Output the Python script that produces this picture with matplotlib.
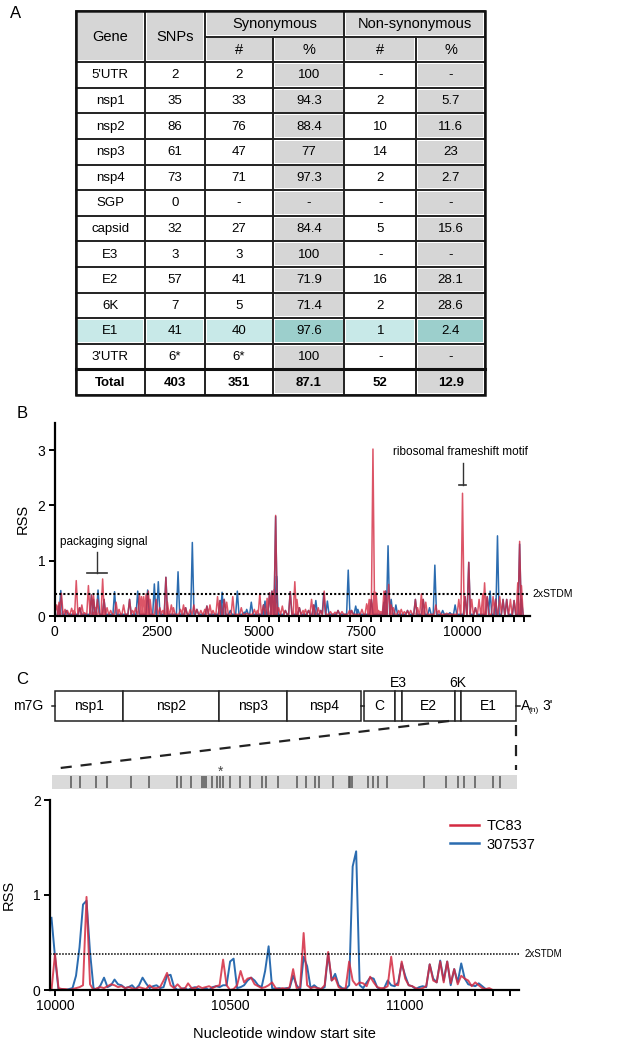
import numpy as np
import matplotlib
matplotlib.use('Agg')
import matplotlib.pyplot as plt
from matplotlib.patches import Rectangle
from matplotlib.lines import Line2D

plt.rcParams['font.family'] = ['Liberation Sans', 'DejaVu Sans']

# ----------------------------
# DATA
# ----------------------------
# Panel A table
genes = ["5'UTR", "nsp1", "nsp2", "nsp3", "nsp4", "SGP", "capsid", "E3", "E2", "6K", "E1", "3'UTR", "Total"]
snps = ["2", "35", "86", "61", "73", "0", "32", "3", "57", "7", "41", "6*", "403"]
syn_n = ["2", "33", "76", "47", "71", "-", "27", "3", "41", "5", "40", "6*", "351"]
syn_pct = ["100", "94.3", "88.4", "77", "97.3", "-", "84.4", "100", "71.9", "71.4", "97.6", "100", "87.1"]
non_n = ["-", "2", "10", "14", "2", "-", "5", "-", "16", "2", "1", "-", "52"]
non_pct = ["-", "5.7", "11.6", "23", "2.7", "-", "15.6", "-", "28.1", "28.6", "2.4", "-", "12.9"]
highlight_gene = "E1"

# Panel B: RSS peaks over the genome (window start, RSS)
b_blue_pos = [110, 154, 290, 620, 905, 957, 1067, 1214, 1472, 1840, 2039, 2283, 2447, 2544, 2730,
              3028, 3214, 3378, 3490, 3735, 4056, 4108, 4160, 4309, 4481, 4652, 4711, 4823, 5122,
              5159, 5271, 5330, 5420, 5442, 5659, 5778, 6002, 6226, 6353, 6405, 6524, 6600, 6688,
              6949, 7199, 7281, 7382, 7435, 7766, 8075, 8113, 8175, 8252, 8367, 8652, 8845, 9037,
              9191, 9322, 9514, 9691, 9819, 10063, 10153, 10316, 10605, 10677, 10812, 10857, 10993,
              11083, 11264, 11400, 11445]
b_blue_rss = [0.2, 0.46, 0.1, 0.15, 0.38, 0.3, 0.47, 0.3, 0.44, 0.3, 0.45, 0.47, 0.58, 0.62, 0.7,
              0.8, 0.15, 1.33, 0.12, 0.18, 0.28, 0.43, 0.3, 0.1, 0.45, 0.07, 0.12, 0.25, 0.2,
              0.27, 0.42, 0.45, 1.8, 0.72, 0.1, 0.44, 0.15, 0.1, 0.2, 0.28, 0.1, 0.42, 0.27,
              0.1, 0.83, 0.1, 0.18, 0.12, 0.3, 0.25, 0.45, 1.27, 0.3, 0.2, 0.1, 0.3, 0.3,
              0.15, 0.92, 0.1, 0.06, 0.2, 0.35, 0.97, 0.15, 0.35, 0.45, 0.3, 1.45, 0.3,
              0.3, 0.28, 1.3, 0.3]
b_red_pos = [52, 110, 170, 258, 316, 420, 478, 533, 611, 670, 736, 831, 905, 957, 1008, 1052, 1180,
             1214, 1288, 1376, 1510, 1582, 1693, 1840, 1914, 1987, 2083, 2134, 2186, 2246, 2300,
             2343, 2492, 2581, 2655, 2730, 2767, 2864, 2916, 3087, 3162, 3214, 3326, 3415, 3490,
             3587, 3683, 3735, 3810, 3885, 3996, 4056, 4160, 4220, 4369, 4578, 4711, 4898, 4972,
             5032, 5122, 5211, 5271, 5330, 5390, 5420, 5495, 5584, 5659, 5778, 5890, 5942, 6002,
             6091, 6151, 6226, 6300, 6353, 6464, 6524, 6610, 6763, 6875, 6949, 7046, 7228, 7281,
             7535, 7651, 7713, 7766, 7805, 7843, 7882, 7944, 7998, 8075, 8113, 8190, 8252, 8305,
             8436, 8498, 8575, 8652, 8729, 8845, 8898, 8991, 9037, 9099, 9345, 9422, 9614, 9909,
             10000, 10063, 10153, 10225, 10316, 10406, 10496, 10541, 10605, 10749, 10812, 10912,
             10993, 11083, 11174, 11264, 11354, 11400, 11445]
b_red_rss = [0.2, 0.25, 0.41, 0.12, 0.1, 0.14, 0.1, 0.64, 0.15, 0.2, 0.06, 0.55, 0.38, 0.37, 0.15, 0.3, 0.67,
             0.3, 0.15, 0.1, 0.25, 0.12, 0.2, 0.3, 0.1, 0.15, 0.38, 0.35, 0.35, 0.4, 0.45,
             0.3, 0.3, 0.15, 0.1, 0.7, 0.25, 0.2, 0.15, 0.12, 0.2, 0.15, 0.12, 0.2, 0.12,
             0.1, 0.12, 0.18, 0.2, 0.1, 0.35, 0.28, 0.3, 0.25, 0.35, 0.15, 0.05, 0.12, 0.1,
             0.4, 0.2, 0.32, 0.42, 0.45, 0.48, 1.82, 0.15, 0.18, 0.1, 0.44, 0.62, 0.3, 0.15,
             0.1, 0.12, 0.1, 0.3, 0.2, 0.15, 0.1, 0.45, 0.08, 0.07, 0.1, 0.08, 0.1, 0.1,
             0.12, 0.22, 0.3, 0.3, 3.02, 0.45, 0.42, 0.1, 0.08, 0.45, 0.45, 0.57, 0.2, 0.15,
             0.1, 0.12, 0.08, 0.1, 0.1, 0.3, 0.15, 0.4, 0.3, 0.25, 0.2, 0.1, 0.05, 0.3,
             2.22, 0.35, 0.97, 0.3, 0.15, 0.3, 0.4, 0.6, 0.35, 0.35, 0.3, 0.35,
             0.3, 0.3, 0.3, 0.28, 0.6, 1.35, 0.55]
b_threshold = 0.4

# Panel C: RSS across the E1 region, window start every 10 nt from 9990
c_start = np.arange(9990, 11251, 10)
c_tc83 = [0.0, 0.38, 0.02, 0.01, 0.01, 0.0, 0.01, 0.02, 0.03, 0.05, 0.98, 0.06, 0.0, 0.02, 0.03, 0.02,
          0.04, 0.06, 0.05, 0.03, 0.04, 0.02, 0.03, 0.02, 0.01, 0.03, 0.02, 0.01, 0.05, 0.02, 0.02,
          0.03, 0.1, 0.18, 0.05, 0.02, 0.06, 0.02, 0.01, 0.07, 0.02, 0.02, 0.04, 0.02, 0.03, 0.04,
          0.02, 0.04, 0.05, 0.32, 0.05, 0.0, 0.01, 0.05, 0.2, 0.08, 0.12, 0.13, 0.06, 0.04, 0.02,
          0.03, 0.05, 0.08, 0.02, 0.01, 0.02, 0.01, 0.03, 0.22, 0.02, 0.03, 0.6, 0.05, 0.02, 0.03,
          0.02, 0.01, 0.05, 0.4, 0.1, 0.13, 0.03, 0.01, 0.02, 0.3, 0.1, 0.05, 0.08, 0.07, 0.04,
          0.14, 0.08, 0.03, 0.02, 0.02, 0.04, 0.35, 0.06, 0.05, 0.3, 0.12, 0.05, 0.04, 0.02, 0.01,
          0.02, 0.04, 0.27, 0.1, 0.08, 0.3, 0.08, 0.3, 0.07, 0.22, 0.06, 0.15, 0.12, 0.1, 0.04,
          0.08, 0.05, 0.02, 0.01, 0.02, 0.0]
c_307537 = [0.76, 0.35, 0.0, 0.01, 0.0, 0.01, 0.02, 0.15, 0.45, 0.9, 0.94, 0.4, 0.02, 0.0, 0.05, 0.13,
            0.03, 0.05, 0.11, 0.06, 0.05, 0.02, 0.03, 0.05, 0.01, 0.05, 0.13, 0.07, 0.02, 0.04, 0.05,
            0.02, 0.03, 0.15, 0.16, 0.03, 0.0, 0.01, 0.02, 0.0, 0.02, 0.03, 0.01, 0.0, 0.02, 0.0,
            0.03, 0.04, 0.03, 0.05, 0.05, 0.3, 0.33, 0.02, 0.03, 0.05, 0.1, 0.13, 0.1, 0.05, 0.03,
            0.2, 0.46, 0.02, 0.01, 0.02, 0.01, 0.02, 0.02, 0.15, 0.05, 0.0, 0.35, 0.25, 0.02, 0.05,
            0.02, 0.01, 0.03, 0.38, 0.1, 0.17, 0.05, 0.02, 0.01, 0.05, 1.3, 1.46, 0.05, 0.02, 0.08,
            0.13, 0.12, 0.03, 0.0, 0.02, 0.1, 0.05, 0.04, 0.08, 0.28, 0.15, 0.05, 0.04, 0.01, 0.03,
            0.04, 0.03, 0.27, 0.12, 0.08, 0.31, 0.1, 0.3, 0.05, 0.22, 0.08, 0.28, 0.12, 0.06, 0.05,
            0.04, 0.07, 0.04, 0.01, 0.0, 0.0]
c_threshold = 0.38

# SNP sites in the zoomed E1 strip, and the marked one
snp_sites = [10046, 10072, 10118, 10148, 10218, 10269, 10348, 10360, 10388, 10419, 10425, 10432,
             10448, 10463, 10472, 10480, 10500, 10527, 10558, 10592, 10602, 10637, 10690, 10716,
             10742, 10753, 10795, 10840, 10842, 10847, 10895, 10907, 10921, 10947, 11053, 11116,
             11152, 11168, 11200, 11252, 11271]
snp_marked = 10472
strip_range = (9992, 11319)

# Genome schematic (drawing units across the page)
diag_names = ['nsp1', 'nsp2', 'nsp3', 'nsp4', 'C', 'E3', 'E2', '6K', 'E1']
diag_left = [55.2, 123.4, 219.2, 286.6, 363.9, 394.8, 401.5, 454.9, 461.2]
diag_right = [123.4, 219.2, 286.6, 361.0, 394.8, 401.5, 454.9, 461.2, 515.7]

RED = '#d42a41'
BLUE = '#2b6cb0'

fig = plt.figure(figsize=(6.17, 10.49), dpi=100)

# overlay in pixel units for table / schematic / panel letters
ov = fig.add_axes([0, 0, 1, 1])
ov.set_xlim(0, 617)
ov.set_ylim(1049, 0)
ov.axis('off')

for lab, (x, y) in zip('ABC', [(16, 14), (22, 413), (22, 680)]):
    ov.text(x, y, lab, fontsize=12, ha='center', va='center')

# ----------------------------
# Panel A: table
# ----------------------------
cols = [75.5, 144.8, 204.8, 273.3, 344.4, 416.2, 485]
top, rh = 11, 25.6
GRAY = '#d6d6d6'
TEAL = '#c8e9e8'
TEAL_D = '#9ccfcc'


def cell(c0, c1, r0, r1, text, fill='white', bold=False, fs=9.5):
    x0, x1 = cols[c0], cols[c1]
    y0, y1 = top + r0 * rh, top + r1 * rh
    if fill != 'white':
        ov.add_patch(Rectangle((x0 + 1.8, y0 + 1.8), x1 - x0 - 3.6, y1 - y0 - 3.6,
                               facecolor=fill, edgecolor='none'))
    ov.add_patch(Rectangle((x0, y0), x1 - x0, y1 - y0, facecolor='none',
                           edgecolor='#222222', lw=1.2))
    ov.text((x0 + x1) / 2, (y0 + y1) / 2 + 0.5, text, ha='center', va='center', fontsize=fs,
            fontweight='bold' if bold else 'normal')


cell(0, 1, 0, 2, 'Gene', GRAY, fs=10.5)
cell(1, 2, 0, 2, 'SNPs', GRAY, fs=10.5)
cell(2, 4, 0, 1, 'Synonymous', GRAY, fs=10.5)
cell(4, 6, 0, 1, 'Non-synonymous', GRAY, fs=10.5)
for c, t in zip(range(2, 6), ['#', '%', '#', '%']):
    cell(c, c + 1, 1, 2, t, GRAY, fs=10.5)

for i, g in enumerate(genes):
    r = i + 2
    vals = [g, snps[i], syn_n[i], syn_pct[i], non_n[i], non_pct[i]]
    bold = g == 'Total'
    for c, v in enumerate(vals):
        if g == highlight_gene:
            fill = TEAL_D if c in (3, 5) else TEAL
        else:
            fill = GRAY if c in (3, 5) else 'white'
        cell(c, c + 1, r, r + 1, v, fill, bold=bold)

ov.plot([cols[0], cols[-1]], [top + 14 * rh] * 2, color='#111111', lw=2.2)
ov.add_patch(Rectangle((cols[0], top), cols[-1] - cols[0], 15 * rh, facecolor='none',
                       edgecolor='#111111', lw=1.8))


def style(ax):
    for s in ['top', 'right']:
        ax.spines[s].set_visible(False)
    for s in ['left', 'bottom']:
        ax.spines[s].set_linewidth(1.6)
    ax.tick_params(direction='out', length=4.5, width=1.4, labelsize=10, pad=2)


# ----------------------------
# Panel B
# ----------------------------
def spikes(pos, val, w=40):
    xs, ys = [], []
    for p, v in sorted(zip(pos, val)):
        xs += [p - w, p, p + w]
        ys += [0.03, v, 0.03]
    return xs, ys


axb = fig.add_axes([54.5 / 617, 433 / 1049, 475.5 / 617, 193.5 / 1049])
bx, by = spikes(b_blue_pos, b_blue_rss)
axb.plot(bx, by, color=BLUE, lw=1.1)
rx, ry = spikes(b_red_pos, b_red_rss)
axb.plot(rx, ry, color=RED, lw=1.1, alpha=0.8)
axb.axhline(b_threshold, color='black', lw=1.5, ls=(0, (1, 1)))
axb.set_xlim(0, 11654)
axb.set_ylim(0, 3.5)
xt = np.arange(0, 11501, 250)
axb.set_xticks(xt)
axb.set_xticklabels([str(v) if v % 2500 == 0 else '' for v in xt])
axb.set_yticks([0, 1, 2, 3])
style(axb)
axb.set_ylabel('RSS', fontsize=10.5, labelpad=6)
axb.set_xlabel('Nucleotide window start site', fontsize=10.5, labelpad=3)
axb.text(1.005, b_threshold, '2xSTDM', transform=axb.get_yaxis_transform(), fontsize=7.5,
         va='center', ha='left')
# packaging signal marker
axb.plot([1043, 1043], [0.78, 1.16], color='#333333', lw=1)
axb.plot([804, 1282], [0.78, 0.78], color='#333333', lw=1.2)
axb.text(1200, 1.34, 'packaging signal', fontsize=8.5, ha='center', va='center')
# ribosomal frameshift marker
axb.plot([10000, 10000], [2.37, 2.77], color='#333333', lw=1)
axb.plot([9910, 10090], [2.37, 2.37], color='#333333', lw=1.2)
axb.text(9940, 2.97, 'ribosomal frameshift motif', fontsize=8.5, ha='center', va='center')

# ----------------------------
# Panel C: schematic
# ----------------------------
by0, by1 = 691, 721
ym = (by0 + by1) / 2
for n, l, r in zip(diag_names, diag_left, diag_right):
    ov.add_patch(Rectangle((l, by0), r - l, by1 - by0, facecolor='white', edgecolor='#222222',
                           lw=1.1))
    if r - l > 10:
        ov.text((l + r) / 2, ym, n, ha='center', va='center', fontsize=10)
    else:
        ov.text((l + r) / 2, 683, n, ha='center', va='center', fontsize=10)
ov.plot([52, diag_left[0]], [ym, ym], color='#222222', lw=1.1)
ov.plot([diag_right[3], diag_left[4]], [ym, ym], color='#222222', lw=1.1)
ov.plot([diag_right[-1], 520], [ym, ym], color='#222222', lw=1.1)
ov.text(27.7, ym, 'm7G', ha='center', va='center', fontsize=10)
ov.text(520.5, ym, 'A', ha='left', va='center', fontsize=10)
ov.text(528.5, ym + 4, '(n)', ha='left', va='center', fontsize=6)
ov.text(542, ym, "3'", ha='left', va='center', fontsize=10)
ov.plot([449, 52], [721, 769], color='#222222', lw=1.6, ls=(0, (5, 4)))
ov.plot([515.7, 515.7], [725, 770], color='#222222', lw=1.6, ls=(0, (5, 4)))

# SNP strip
axs = fig.add_axes([49.75 / 617, (1049 - 789) / 1049, 469.25 / 617, 14 / 1049])
axs.set_xlim(9985, 11325)
axs.set_ylim(0, 1)
axs.axis('off')
axs.add_patch(Rectangle((strip_range[0], 0), strip_range[1] - strip_range[0], 1,
                        facecolor='#dadada', edgecolor='none'))
axs.vlines(snp_sites, 0.08, 0.92, color='#555555', lw=1.1)
axs.text(snp_marked, 1.25, '*', ha='center', va='center', fontsize=10, color='#444444',
         clip_on=False)

# ----------------------------
# Panel C: plot
# ----------------------------
axc = fig.add_axes([49.75 / 617, 59 / 1049, 469.25 / 617, 190 / 1049])
axc.plot(c_start, c_307537, color=BLUE, lw=1.4)
axc.plot(c_start, c_tc83, color=RED, lw=1.4, alpha=0.85)
axc.axhline(c_threshold, color='black', lw=1.1, ls=(0, (1, 1)))
axc.set_xlim(9985, 11325)
axc.set_ylim(0, 2)
xt = np.arange(10000, 11301, 50)
axc.set_xticks(xt)
axc.set_xticklabels([str(v) if v % 500 == 0 else '' for v in xt])
axc.set_yticks([0, 1, 2])
style(axc)
axc.set_ylabel('RSS', fontsize=10.5, labelpad=12)
axc.set_xlabel('Nucleotide window start site', fontsize=10.5, labelpad=10)
axc.text(1.012, c_threshold, '2xSTDM', transform=axc.get_yaxis_transform(), fontsize=7,
         va='center', ha='left')
handles = [Line2D([], [], color=RED, lw=1.8), Line2D([], [], color=BLUE, lw=1.8)]
axc.legend(handles, ['TC83', '307537'], loc='upper left', bbox_to_anchor=(0.84, 0.93),
           frameon=False, fontsize=10.5, handlelength=2.0, handletextpad=0.5,
           labelspacing=0.3, borderaxespad=0)

plt.savefig('out.png', dpi=100)
